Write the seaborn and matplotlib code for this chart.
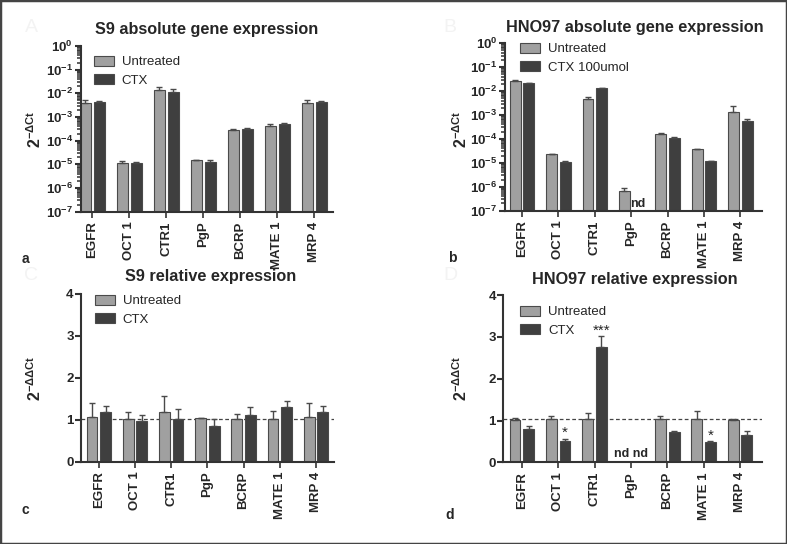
import numpy as np
import pandas as pd
import matplotlib
matplotlib.use('Agg')
import matplotlib.pyplot as plt
import matplotlib.ticker as mticker
from matplotlib.patches import Patch, Rectangle
import seaborn as sns

genes = ['EGFR', 'OCT 1', 'CTR1', 'PgP', 'BCRP', 'MATE 1', 'MRP 4']
nan = np.nan

# S9 absolute (2^-dCt)
s9_abs_untreated = [3.8e-3, 1.17e-5, 1.38e-2, 1.5e-5, 2.8e-4, 4.0e-4, 3.8e-3]
s9_abs_untreated_err = [1.2e-3, 0.21e-5, 5e-3, 0.05e-5, 0.4e-4, 0.9e-4, 1.2e-3]
s9_abs_ctx = [4.4e-3, 1.1e-5, 1.17e-2, 1.26e-5, 3.1e-4, 5.2e-4, 4.4e-3]
s9_abs_ctx_err = [0.3e-3, 0.18e-5, 3.1e-3, 0.2e-5, 0.5e-4, 0.3e-4, 0.3e-3]

# HNO97 absolute (2^-dCt), PgP CTX not detected
hno_abs_untreated = [2.7e-2, 2.3e-5, 4.8e-3, 6.9e-7, 1.6e-4, 3.8e-5, 1.32e-3]
hno_abs_untreated_err = [1e-3, 1e-6, 0.9e-3, 1.7e-7, 0.1e-4, 0, 1.1e-3]
hno_abs_ctx = [2.1e-2, 1.1e-5, 1.32e-2, nan, 1.1e-4, 1.15e-5, 5.6e-4]
hno_abs_ctx_err = [1e-3, 0.8e-6, 0.5e-3, nan, 0.05e-4, 0.8e-6, 1e-4]

# S9 relative (2^-ddCt)
s9_rel_untreated = [1.07, 1.03, 1.18, 1.04, 1.03, 1.03, 1.07]
s9_rel_untreated_err = [0.32, 0.15, 0.39, 0.01, 0.10, 0.18, 0.32]
s9_rel_ctx = [1.18, 0.97, 1.03, 0.84, 1.11, 1.30, 1.18]
s9_rel_ctx_err = [0.15, 0.14, 0.22, 0.17, 0.20, 0.14, 0.15]

# HNO97 relative (2^-ddCt), PgP not detected
hno_rel_untreated = [1.02, 1.03, 1.03, nan, 1.03, 1.03, 1.01]
hno_rel_untreated_err = [0.05, 0.07, 0.16, nan, 0.07, 0.21, 0.03]
hno_rel_ctx = [0.81, 0.51, 2.77, nan, 0.72, 0.49, 0.66]
hno_rel_ctx_err = [0.06, 0.06, 0.25, nan, 0.04, 0.01, 0.08]
hno_rel_stars = ['', '*', '***', '', '', '*', '']

reference_level = 1.03

sns.set_style('ticks')
plt.rcParams['font.family'] = ['Liberation Sans', 'DejaVu Sans']
plt.rcParams['mathtext.fontset'] = 'custom'
plt.rcParams['mathtext.rm'] = 'Liberation Sans'
plt.rcParams['mathtext.bf'] = 'Liberation Sans:bold'
plt.rcParams['mathtext.it'] = 'Liberation Sans:italic'

light = '#a0a0a0'
dark = '#3f3f3f'
edge = '#4a4a4a'
axis_col = '#333333'


def draw_panel(ax, untreated, untreated_err, ctx, ctx_err, log=False):
    df = pd.DataFrame({'gene': genes * 2,
                       'group': ['Untreated'] * len(genes) + ['CTX'] * len(genes),
                       'value': list(untreated) + list(ctx),
                       'err': list(untreated_err) + list(ctx_err)})
    if log:
        ax.set_yscale('log')
    sns.barplot(data=df, x='gene', y='value', hue='group', order=genes,
                hue_order=['Untreated', 'CTX'],
                palette={'Untreated': light, 'CTX': dark},
                errorbar=None, width=0.75, gap=0.2, edgecolor=edge,
                linewidth=0.8, legend=False, ax=ax)
    # one-sided (upper) error bars placed on seaborn's bars
    for cont, grp in zip(ax.containers, ['Untreated', 'CTX']):
        sub = df[df['group'] == grp].reset_index(drop=True)
        for bar in cont:
            xc = bar.get_x() + bar.get_width() / 2
            i = int(round(xc))
            v, e = sub.loc[i, 'value'], sub.loc[i, 'err']
            if np.isnan(v):
                continue
            ax.errorbar(xc, v, yerr=[[0], [e]], fmt='none', ecolor=edge,
                        elinewidth=1, capsize=2.5, capthick=1)
    sns.despine(ax=ax)
    for s in ['left', 'bottom']:
        ax.spines[s].set_linewidth(1.5)
        ax.spines[s].set_color(axis_col)
    ax.set_xlabel('')
    ax.set_ylabel('')
    ax.tick_params(axis='x', length=4, width=1.2, color=axis_col, labelsize=9.5,
                   labelrotation=90, pad=3)
    for lab in ax.get_xticklabels():
        lab.set_fontweight('bold')
    if log:
        ax.set_ylim(1e-7, 1)
        ax.yaxis.set_major_locator(mticker.LogLocator(base=10, numticks=12))
        ax.yaxis.set_minor_locator(mticker.LogLocator(base=10, subs=np.arange(2, 10), numticks=12))
        ax.yaxis.set_major_formatter(mticker.FuncFormatter(
            lambda v, p: r'$\mathbf{10^{%d}}$' % round(np.log10(v))))
        ax.yaxis.set_minor_formatter(mticker.NullFormatter())
        ax.tick_params(axis='y', which='major', length=4.5, width=1.5, color=axis_col,
                       labelsize=9.5, pad=1)
        ax.tick_params(axis='y', which='minor', length=3, width=1.1, color=axis_col)
    else:
        ax.set_ylim(0, 4)
        ax.set_yticks([0, 1, 2, 3, 4])
        ax.tick_params(axis='y', length=4, width=1.5, color=axis_col, labelsize=9.5, pad=1)
        for lab in ax.get_yticklabels():
            lab.set_fontweight('bold')
        ax.axhline(reference_level, ls=(0, (3, 2)), color='#444444', lw=0.9, zorder=0.5)


def add_legend(ax, ctx_label, x, y):
    handles = [Patch(facecolor=light, edgecolor=edge, linewidth=0.8),
               Patch(facecolor=dark, edgecolor=edge, linewidth=0.8)]
    ax.legend(handles, ['Untreated', ctx_label], loc='upper left',
              bbox_to_anchor=(x, y), bbox_transform=fig.transFigure,
              frameon=False, fontsize=9.5, handlelength=1.5, handleheight=0.75,
              handletextpad=0.6, labelspacing=0.45, borderpad=0, borderaxespad=0)


fig = plt.figure(figsize=(7.87, 5.44), dpi=100)

axA = fig.add_axes([0.1025, 0.6108, 0.320, 0.3046])
draw_panel(axA, s9_abs_untreated, s9_abs_untreated_err, s9_abs_ctx, s9_abs_ctx_err, log=True)
axA.set_xlim(-0.31, 6.49)
add_legend(axA, 'CTX', 0.1194, 0.897)

axB = fig.add_axes([0.6417, 0.6127, 0.3266, 0.308])
draw_panel(axB, hno_abs_untreated, hno_abs_untreated_err, hno_abs_ctx, hno_abs_ctx_err, log=True)
axB.set_xlim(-0.47, 6.6)
axB.text(3.19, 1.9e-7, 'nd', ha='center', va='center', fontsize=9, fontweight='bold')
add_legend(axB, 'CTX 100umol', 0.661, 0.921)

axC = fig.add_axes([0.1025, 0.1513, 0.322, 0.3083])
draw_panel(axC, s9_rel_untreated, s9_rel_untreated_err, s9_rel_ctx, s9_rel_ctx_err)
axC.set_xlim(-0.5, 6.5)
add_legend(axC, 'CTX', 0.1207, 0.4577)

axD = fig.add_axes([0.639, 0.150, 0.329, 0.3075])
draw_panel(axD, hno_rel_untreated, hno_rel_untreated_err, hno_rel_ctx, hno_rel_ctx_err)
axD.set_xlim(-0.52, 6.6)
axD.text(3, 0.2, 'nd nd', ha='center', va='center', fontsize=9, fontweight='bold')
for i, star in enumerate(hno_rel_stars):
    if star:
        top = hno_rel_ctx[i] + hno_rel_ctx_err[i]
        axD.text(i + 0.19, top + 0.13, star, ha='center', va='center', fontsize=11)
add_legend(axD, 'CTX', 0.661, 0.4375)

# titles
fig.text(0.263, 0.945, 'S9 absolute gene expression', ha='center', va='center',
         fontsize=11.7, fontweight='bold')
fig.text(0.807, 0.949, 'HNO97 absolute gene expression', ha='center', va='center',
         fontsize=11.7, fontweight='bold')
fig.text(0.267, 0.491, 'S9 relative expression', ha='center', va='center',
         fontsize=11.7, fontweight='bold')
fig.text(0.807, 0.487, 'HNO97 relative expression', ha='center', va='center',
         fontsize=11.7, fontweight='bold')

# y labels
ylab_abs = r'$\mathbf{2^{-\Delta Ct}}$'
ylab_rel = r'$\mathbf{2^{-\Delta\Delta Ct}}$'
fig.text(0.0445, 0.763, ylab_abs, rotation=90, ha='center', va='center', fontsize=11.5)
fig.text(0.585, 0.763, ylab_abs, rotation=90, ha='center', va='center', fontsize=11.5)
fig.text(0.0445, 0.305, ylab_rel, rotation=90, ha='center', va='center', fontsize=11.5)
fig.text(0.585, 0.305, ylab_rel, rotation=90, ha='center', va='center', fontsize=11.5)

# panel letters
for x, y, t in [(25, 259, 'a'), (452, 258, 'b'), (25, 510, 'c'), (450, 515, 'd')]:
    fig.text(x / 787, 1 - y / 544, t, ha='center', va='center', fontsize=10, fontweight='bold')
# faint background letters
for x, y, t in [(31, 28, 'A'), (450, 27, 'B'), (31, 275, 'C'), (450, 276, 'D')]:
    fig.text(x / 787, 1 - y / 544, t, ha='center', va='center', fontsize=14, color='#f3f3f3')

fig.patches.append(Rectangle((0, 0), 1, 1, transform=fig.transFigure, fill=False,
                             edgecolor='#444444', linewidth=2.5))

fig.savefig('out.png', dpi=100)
